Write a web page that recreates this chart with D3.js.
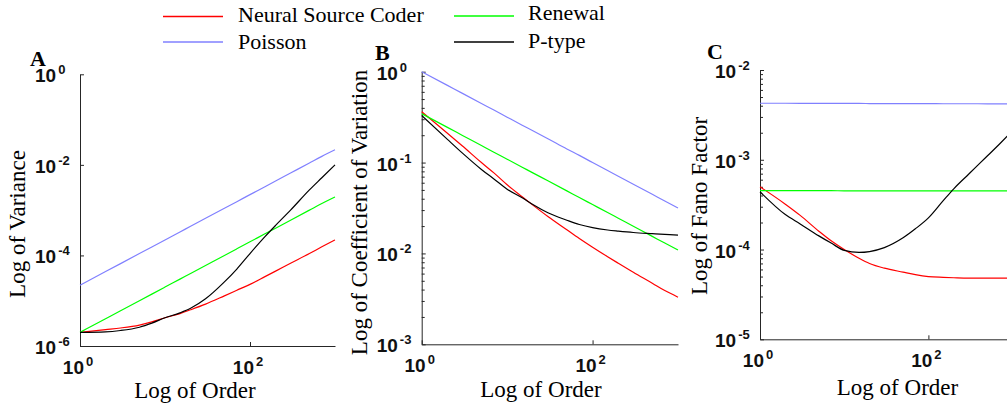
<!DOCTYPE html>
<html lang="en">
<head>
<meta charset="UTF-8" />
<title>Variance, coefficient of variation and Fano factor vs order</title>
<script src="https://d3js.org/d3.v7.min.js"></script>
<style>
  body { margin: 0; background: #fff; }
  svg { display: block; }
  .tick-label { font-family: "Liberation Sans", Arial, sans-serif; font-weight: bold; font-size: 19px; fill: #111; }
  .axis-title { font-family: "Liberation Serif", "Times New Roman", serif; font-size: 23px; fill: #000; }
  .legend-text { font-family: "Liberation Serif", "Times New Roman", serif; font-size: 22px; fill: #000; }
  .panel-letter { font-family: "Liberation Serif", "Times New Roman", serif; font-size: 22px; font-weight: bold; fill: #000; }
  .axis path, .axis line { stroke: #262626; stroke-width: 1; }
</style>
</head>
<body>
<div id="chart"></div>
<script>
// shared x values (order)
const orders = [1, 2, 3, 5, 7, 10, 15, 20, 30, 50, 70, 100, 150, 200, 300, 500, 700, 1000];

const seriesNames = ["Neural Source Coder", "Poisson", "Renewal", "P-type"];
const seriesColors = ["#ff0000", "#8080ff", "#00ff00", "#000000"];

// Panel A: variance
const varNsc = [2.0e-6, 2.3e-6, 2.5e-6, 2.9e-6, 3.4e-6, 4.2e-6, 5.2e-6, 6.3e-6, 8.4e-6, 1.28e-5, 1.7e-5, 2.3e-5, 3.4e-5, 4.5e-5, 6.7e-5, 1.1e-4, 1.55e-4, 2.2e-4];
const varPoisson = [2.2e-5, 4.4e-5, 6.6e-5, 1.1e-4, 1.54e-4, 2.2e-4, 3.3e-4, 4.4e-4, 6.6e-4, 1.1e-3, 1.54e-3, 2.2e-3, 3.3e-3, 4.4e-3, 6.6e-3, 1.1e-2, 1.54e-2, 2.15e-2];
const varRenewal = [2.0e-6, 4.0e-6, 6.0e-6, 1.0e-5, 1.4e-5, 2.0e-5, 3.0e-5, 4.0e-5, 6.0e-5, 1.0e-4, 1.4e-4, 2.0e-4, 3.0e-4, 4.0e-4, 6.0e-4, 1.0e-3, 1.4e-3, 1.95e-3];
const varPtype = [2.0e-6, 2.05e-6, 2.2e-6, 2.6e-6, 3.2e-6, 4.2e-6, 5.4e-6, 6.8e-6, 1.1e-5, 2.6e-5, 5.0e-5, 1.1e-4, 2.6e-4, 4.6e-4, 1.0e-3, 2.8e-3, 5.2e-3, 1.0e-2];

// Panel B: coefficient of variation
const cvNsc = [0.363, 0.21, 0.152, 0.100, 0.077, 0.057, 0.042, 0.034, 0.0255, 0.0182, 0.0146, 0.0117, 0.0092, 0.0078, 0.0062, 0.0047, 0.0039, 0.0033];
const cvPoisson = [1.0, 0.707, 0.577, 0.447, 0.378, 0.316, 0.258, 0.224, 0.183, 0.141, 0.120, 0.100, 0.0816, 0.0707, 0.0577, 0.0447, 0.0378, 0.0316];
const cvRenewal = [0.345, 0.244, 0.199, 0.154, 0.130, 0.109, 0.089, 0.077, 0.063, 0.0488, 0.0412, 0.0345, 0.0282, 0.0244, 0.0199, 0.0154, 0.0130, 0.0109];
const cvPtype = [0.33, 0.18, 0.127, 0.084, 0.066, 0.051, 0.041, 0.0345, 0.028, 0.0232, 0.0208, 0.0192, 0.0181, 0.0176, 0.0170, 0.0165, 0.0162, 0.0159];

// Panel C: Fano factor
const fanoNsc = [5.0e-4, 3.2e-4, 2.4e-4, 1.6e-4, 1.25e-4, 1.0e-4, 8.0e-5, 7.0e-5, 6.2e-5, 5.6e-5, 5.25e-5, 5.0e-5, 4.9e-5, 4.85e-5, 4.8e-5, 4.8e-5, 4.8e-5, 4.8e-5];
const fanoPoisson = [4.26e-3, 4.26e-3, 4.25e-3, 4.25e-3, 4.25e-3, 4.24e-3, 4.24e-3, 4.23e-3, 4.23e-3, 4.22e-3, 4.22e-3, 4.22e-3, 4.21e-3, 4.21e-3, 4.21e-3, 4.2e-3, 4.2e-3, 4.2e-3];
const fanoRenewal = [4.52e-4, 4.52e-4, 4.52e-4, 4.52e-4, 4.52e-4, 4.51e-4, 4.51e-4, 4.51e-4, 4.5e-4, 4.5e-4, 4.5e-4, 4.5e-4, 4.5e-4, 4.5e-4, 4.5e-4, 4.5e-4, 4.5e-4, 4.5e-4];
const fanoPtype = [4.4e-4, 2.45e-4, 1.93e-4, 1.42e-4, 1.18e-4, 9.8e-5, 9.3e-5, 9.5e-5, 1.05e-4, 1.35e-4, 1.7e-4, 2.25e-4, 3.5e-4, 4.75e-4, 6.9e-4, 1.1e-3, 1.5e-3, 2.1e-3];

const xTicks = [1, 100];

const panels = [
  { letter: "A", x0: 80, x1: 335, y0: 74.3, y1: 346, yDomain: [1e-6, 1], yTicks: [1e-6, 1e-4, 1e-2, 1], minor: false,
    yTitle: "Log of Variance", yTitleX: 25, yTitleY: 224, xTitleX: 195, xTitleY: 398, letterX: 30, letterY: 66,
    series: [varNsc, varPoisson, varRenewal, varPtype] },
  { letter: "B", x0: 421.7, x1: 678, y0: 71.7, y1: 344.3, yDomain: [1e-3, 1], yTicks: [1e-3, 1e-2, 1e-1, 1], minor: true,
    yTitle: "Log of Coefficient of Variation", yTitleX: 366.5, yTitleY: 212.5, xTitleX: 541, xTitleY: 397, letterX: 375, letterY: 60,
    series: [cvNsc, cvPoisson, cvRenewal, cvPtype] },
  { letter: "C", x0: 760, x1: 1012.6, y0: 70, y1: 339.3, yDomain: [1e-5, 1e-2], yTicks: [1e-5, 1e-4, 1e-3, 1e-2], minor: true,
    yTitle: "Log of Fano Factor", yTitleX: 706.5, yTitleY: 206, xTitleX: 897.5, xTitleY: 395, letterX: 707, letterY: 59,
    series: [fanoNsc, fanoPoisson, fanoRenewal, fanoPtype] }
];

const svg = d3.select("#chart").append("svg")
  .attr("width", 1007)
  .attr("height", 405);

function expLabel(sel, v) {
  sel.append("tspan").text("10");
  sel.append("tspan")
    .attr("dx", 2)
    .attr("dy", -8)
    .style("font-size", "13px")
    .text(Math.round(Math.log10(v)));
}

panels.forEach((p) => {
  const x = d3.scaleLog().domain([1, 1000]).range([p.x0, p.x1]);
  const y = d3.scaleLog().domain(p.yDomain).range([p.y1, p.y0]);
  const g = svg.append("g");

  // minor ticks (log 2..9)
  if (p.minor) {
    const minorTicks = [];
    const lo = Math.round(Math.log10(p.yDomain[0]));
    const hi = Math.round(Math.log10(p.yDomain[1]));
    for (let d = lo; d < hi; d++) {
      for (let k = 2; k <= 9; k++) minorTicks.push(k * Math.pow(10, d));
    }
    g.append("g")
      .attr("class", "axis")
      .attr("transform", `translate(${p.x0},0)`)
      .call(d3.axisLeft(y).tickValues(minorTicks).tickSizeInner(-3).tickSizeOuter(0).tickFormat(""))
      .call((s) => s.select(".domain").remove());
  }

  // y axis
  g.append("g")
    .attr("class", "axis")
    .attr("transform", `translate(${p.x0},0)`)
    .call(d3.axisLeft(y).tickValues(p.yTicks).tickSizeInner(-4).tickSizeOuter(0).tickFormat(""));

  // x axis
  g.append("g")
    .attr("class", "axis")
    .attr("transform", `translate(0,${p.y1})`)
    .call(d3.axisBottom(x).tickValues(xTicks).tickSizeInner(-4).tickSizeOuter(0).tickFormat(""));

  // y tick labels
  p.yTicks.forEach((v) => {
    g.append("text")
      .attr("class", "tick-label")
      .attr("x", p.x0 - 45)
      .attr("y", y(v) + 8)
      .call(expLabel, v);
  });

  // x tick labels
  xTicks.forEach((v) => {
    g.append("text")
      .attr("class", "tick-label")
      .attr("text-anchor", "middle")
      .attr("x", x(v) - 2)
      .attr("y", p.y1 + 28)
      .call(expLabel, v);
  });

  // lines, smoothed between the read-off points
  const line = d3.line()
    .curve(d3.curveMonotoneX)
    .x((d) => x(d[0]))
    .y((d) => y(d[1]));

  p.series.forEach((vals, i) => {
    g.append("path")
      .datum(orders.map((o, j) => [o, vals[j]]))
      .attr("fill", "none")
      .attr("stroke", seriesColors[i])
      .attr("stroke-width", 1.2)
      .attr("d", line);
  });

  // titles
  g.append("text")
    .attr("class", "axis-title")
    .attr("text-anchor", "middle")
    .attr("transform", `translate(${p.yTitleX},${p.yTitleY}) rotate(-90)`)
    .text(p.yTitle);

  g.append("text")
    .attr("class", "axis-title")
    .attr("text-anchor", "middle")
    .attr("x", p.xTitleX)
    .attr("y", p.xTitleY)
    .text("Log of Order");

  g.append("text")
    .attr("class", "panel-letter")
    .attr("x", p.letterX)
    .attr("y", p.letterY)
    .text(p.letter);
});

// legend (two columns)
const legendPos = [
  { lx: 163, ly: 16.5, tx: 238, ty: 21.5 },
  { lx: 163, ly: 42, tx: 238, ty: 48.5 },
  { lx: 454, ly: 16, tx: 528, ty: 20 },
  { lx: 454, ly: 42, tx: 528, ty: 48 }
];

const legend = svg.append("g");
seriesNames.forEach((name, i) => {
  const pos = legendPos[i];
  legend.append("line")
    .attr("x1", pos.lx)
    .attr("x2", pos.lx + 60)
    .attr("y1", pos.ly)
    .attr("y2", pos.ly)
    .attr("stroke", seriesColors[i])
    .attr("stroke-width", 1.3);
  legend.append("text")
    .attr("class", "legend-text")
    .attr("x", pos.tx)
    .attr("y", pos.ty)
    .text(name);
});
</script>
</body>
</html>
